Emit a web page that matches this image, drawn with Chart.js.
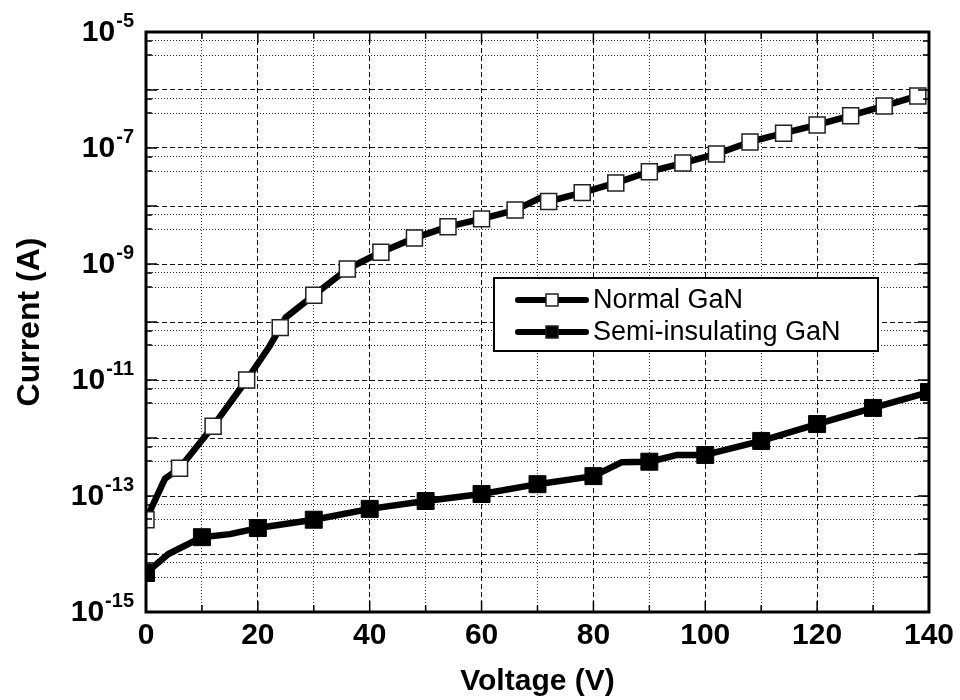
<!DOCTYPE html>
<html>
<head>
<meta charset="utf-8">
<script src="https://cdn.jsdelivr.net/npm/chart.js@4.4.0/dist/chart.umd.min.js"></script>
<style>
  html, body { margin: 0; padding: 0; background: #fff; }
  #wrap { width: 960px; height: 700px; }
</style>
</head>
<body>
<div id="wrap"><canvas id="ivChart" width="960" height="700"></canvas></div>
<script>
// Normal GaN - marked points
const normalV = [0, 6, 12, 18, 24, 30, 36, 42, 48, 54, 60, 66, 72, 78, 84, 90, 96, 102, 108, 114, 120, 126, 132, 138];
const normalI = [3.9e-14, 3.0e-13, 1.6e-12, 1.0e-11, 8.0e-11, 2.9e-10, 8.2e-10, 1.6e-9, 2.8e-9, 4.4e-9, 6.0e-9, 8.5e-9,
                 1.2e-8, 1.7e-8, 2.5e-8, 3.9e-8, 5.5e-8, 7.9e-8, 1.27e-7, 1.8e-7, 2.5e-7, 3.6e-7, 5.3e-7, 7.9e-7];
// Normal GaN - extra measured points between markers (where the curve bends)
const normalBendV = [3.4, 22, 25, 70.5];
const normalBendI = [2.0e-13, 3.7e-11, 1.2e-10, 1.38e-8];

// Semi-insulating GaN - marked points
const semiV = [0, 10, 20, 30, 40, 50, 60, 70, 80, 90, 100, 110, 120, 130, 140];
const semiI = [4.7e-15, 1.95e-14, 2.8e-14, 3.9e-14, 6.0e-14, 8.2e-14, 1.08e-13, 1.6e-13, 2.2e-13, 3.9e-13, 5.1e-13,
               8.9e-13, 1.74e-12, 3.3e-12, 6.2e-12];
const semiBendV = [4, 15, 85, 95];
const semiBendI = [1.0e-14, 2.2e-14, 3.8e-13, 5.1e-13];

const seriesNames = ["Normal GaN", "Semi-insulating GaN"];
const yLabelExps = [-15, -13, -11, -9, -7, -5];
const yMin = 1e-15, yMax = 1e-5;
const xMin = 0, xMax = 140, xStep = 10;

const FONT = "'Liberation Sans', Arial, Helvetica, sans-serif";
Chart.defaults.font.family = FONT;

function toPoints(vs, is) {
  return vs.map((v, k) => ({ x: v, y: is[k] }));
}
function curve(vs, is, bvs, bis) {
  return toPoints(vs, is).concat(toPoints(bvs, bis)).sort((a, b) => a.x - b.x);
}
function isDecade(v) {
  const l = Math.log10(v);
  return Math.abs(l - Math.round(l)) < 1e-6;
}

const framePlugin = {
  id: "frame",
  afterDatasetsDraw(chart) {
    const { ctx, chartArea: a, scales: { x, y } } = chart;
    ctx.save();
    ctx.strokeStyle = "#000";
    ctx.lineCap = "butt";

    // inward ticks on all four sides
    ctx.lineWidth = 1.5;
    ctx.beginPath();
    x.ticks.forEach(t => {
      const px = x.getPixelForValue(t.value);
      const len = t.value % 20 === 0 ? 11 : 7;
      ctx.moveTo(px, a.bottom); ctx.lineTo(px, a.bottom - len);
      ctx.moveTo(px, a.top); ctx.lineTo(px, a.top + len);
    });
    y.ticks.forEach(t => {
      const py = y.getPixelForValue(t.value);
      const len = isDecade(t.value) ? 11 : 6;
      ctx.moveTo(a.left, py); ctx.lineTo(a.left + len, py);
      ctx.moveTo(a.right, py); ctx.lineTo(a.right - len, py);
    });
    ctx.stroke();

    ctx.lineWidth = 3;
    ctx.strokeRect(a.left, a.top, a.right - a.left, a.bottom - a.top);

    // y tick labels with superscript exponents
    ctx.fillStyle = "#000";
    yLabelExps.forEach(e => {
      const py = y.getPixelForValue(Math.pow(10, e));
      ctx.font = "bold 30px " + FONT;
      const wBase = ctx.measureText("10").width;
      ctx.font = "bold 20px " + FONT;
      const sup = String(e);
      const wSup = ctx.measureText(sup).width;
      const right = a.left - 12;
      const left = right - wSup - wBase - 1;
      ctx.textAlign = "left";
      ctx.textBaseline = "middle";
      ctx.font = "bold 30px " + FONT;
      ctx.fillText("10", left, py + 1);
      ctx.textBaseline = "alphabetic";
      ctx.font = "bold 20px " + FONT;
      ctx.fillText(sup, left + wBase + 1, py - 5);
    });

    // legend
    const bx = a.left + 348, by = a.top + 246, bw = 384, bh = 73;
    ctx.fillStyle = "#fff";
    ctx.fillRect(bx, by, bw, bh);
    ctx.lineWidth = 2;
    ctx.strokeRect(bx, by, bw, bh);
    const rows = [
      { name: seriesNames[0], fill: "#fff" },
      { name: seriesNames[1], fill: "#000" }
    ];
    rows.forEach((r, k) => {
      const ry = by + 22 + k * 32;
      ctx.lineWidth = 6;
      ctx.lineCap = "round";
      ctx.beginPath();
      ctx.moveTo(bx + 24, ry); ctx.lineTo(bx + 92, ry);
      ctx.stroke();
      ctx.fillStyle = r.fill;
      ctx.fillRect(bx + 52, ry - 6, 12, 12);
      ctx.lineWidth = 1.5;
      ctx.strokeStyle = "#222";
      ctx.strokeRect(bx + 52, ry - 6, 12, 12);
      ctx.strokeStyle = "#000";
      ctx.fillStyle = "#000";
      ctx.font = "27px " + FONT;
      ctx.textAlign = "left";
      ctx.textBaseline = "middle";
      ctx.fillText(r.name, bx + 99, ry + 1);
    });
    ctx.restore();
  }
};

const ctx = document.getElementById("ivChart").getContext("2d");
new Chart(ctx, {
  type: "line",
  data: {
    datasets: [
      {
        label: seriesNames[0] + " curve",
        data: curve(normalV, normalI, normalBendV, normalBendI),
        borderColor: "#000",
        borderWidth: 6.5,
        borderJoinStyle: "round",
        borderCapStyle: "round",
        pointRadius: 0,
        tension: 0,
        clip: 0,
        order: 2
      },
      {
        label: seriesNames[1] + " curve",
        data: curve(semiV, semiI, semiBendV, semiBendI),
        borderColor: "#000",
        borderWidth: 6.5,
        borderJoinStyle: "round",
        borderCapStyle: "round",
        pointRadius: 0,
        tension: 0,
        clip: 0,
        order: 2
      },
      {
        label: seriesNames[0],
        data: toPoints(normalV, normalI),
        showLine: false,
        pointStyle: "rect",
        pointRadius: 11.3,
        pointBackgroundColor: "#fff",
        pointBorderColor: "#222",
        pointBorderWidth: 1.5,
        clip: 0,
        order: 1
      },
      {
        label: seriesNames[1],
        data: toPoints(semiV, semiI),
        showLine: false,
        pointStyle: "rect",
        pointRadius: 12,
        pointBackgroundColor: "#000",
        pointBorderColor: "#000",
        pointBorderWidth: 1,
        clip: 0,
        order: 1
      }
    ]
  },
  options: {
    responsive: false,
    animation: false,
    events: [],
    layout: { padding: { top: 32, right: 30, left: 0, bottom: 0 } },
    plugins: { legend: { display: false }, tooltip: { enabled: false } },
    scales: {
      x: {
        type: "linear",
        min: xMin,
        max: xMax,
        ticks: {
          stepSize: xStep,
          autoSkip: false,
          maxRotation: 0,
          padding: 6,
          color: "#000",
          font: { size: 30, weight: "bold" },
          callback: v => (v % 20 === 0 ? String(v) : "")
        },
        grid: {
          drawTicks: false,
          lineWidth: 1,
          color: c => (c.tick && (c.tick.value === xMin || c.tick.value === xMax) ? "rgba(0,0,0,0)" :
                       (c.tick && c.tick.value % 20 === 0 ? "#111" : "#333"))
        },
        border: {
          display: false,
          dash: c => (c.tick && c.tick.value % 20 === 0 ? [5, 3] : [1, 2])
        },
        title: {
          display: true,
          text: "Voltage (V)",
          color: "#000",
          font: { size: 30, weight: "bold" },
          padding: { top: 0, bottom: 0 }
        },
        afterFit: s => { s.height = 88; }
      },
      y: {
        type: "logarithmic",
        min: yMin,
        max: yMax,
        afterBuildTicks: s => {
          const t = [];
          for (let e = -15; e < -5; e++) {
            for (let k = 1; k <= 9; k++) t.push({ value: k * Math.pow(10, e) });
          }
          t.push({ value: yMax });
          s.ticks = t;
        },
        ticks: { display: true, color: "rgba(0,0,0,0)", callback: () => "" },
        grid: {
          drawTicks: false,
          lineWidth: 1,
          color: c => (c.tick && (c.tick.value <= yMin * 1.0001 || c.tick.value >= yMax * 0.9999) ? "rgba(0,0,0,0)" :
                       (c.tick && isDecade(c.tick.value) ? "#111" : "#222"))
        },
        border: {
          display: false,
          dash: c => (c.tick && isDecade(c.tick.value) ? [5, 3] : [1, 2])
        },
        title: {
          display: true,
          text: "Current (A)",
          color: "#000",
          font: { size: 32, weight: "bold" },
          padding: { top: 11, bottom: 0 }
        },
        afterFit: s => { s.width = 146; }
      }
    }
  },
  plugins: [framePlugin]
});
</script>
</body>
</html>
